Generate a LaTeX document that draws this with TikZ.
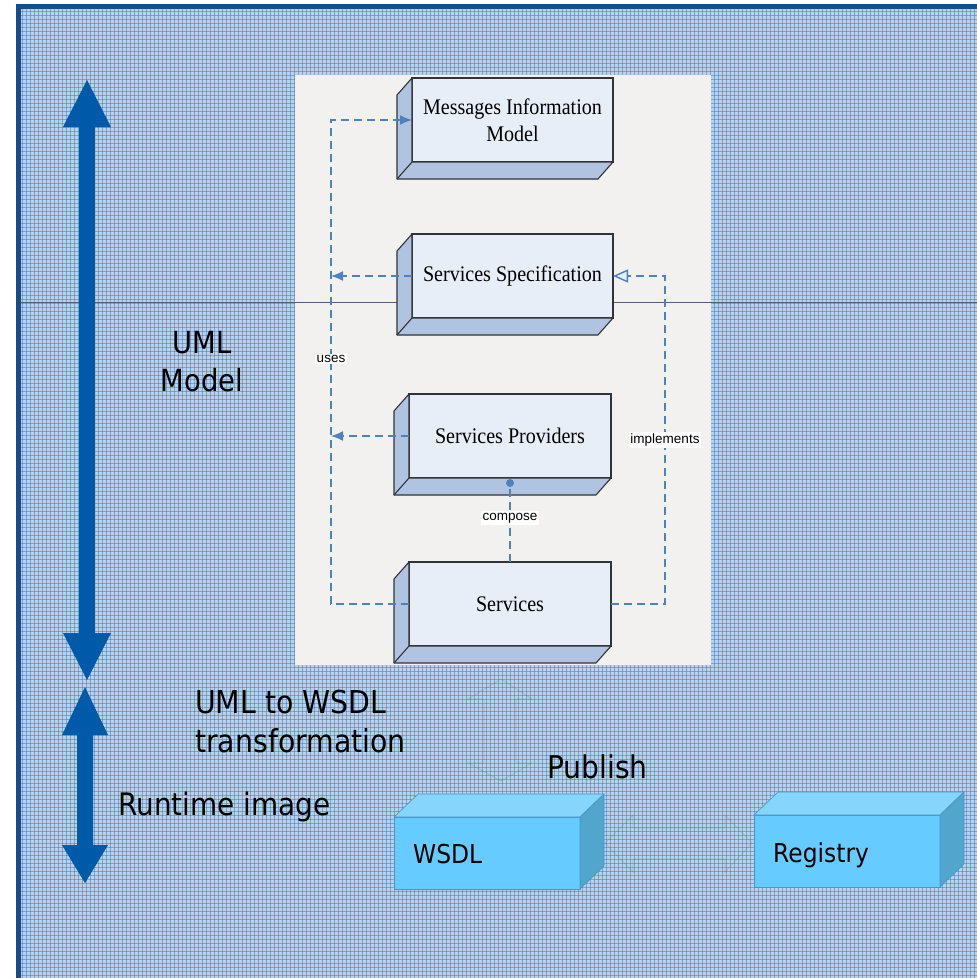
\documentclass[tikz,border=0pt]{standalone}
\usepackage{fontspec}
\setmainfont{Liberation Serif}
\newfontfamily\serifc[FakeStretch=0.9]{Liberation Serif}
\newfontfamily\tah[FakeStretch=0.9]{DejaVu Sans}
\newfontfamily\arialf{Liberation Sans}
\usetikzlibrary{arrows.meta,calc}
\definecolor{frameblue}{RGB}{22,76,136}
\definecolor{bigblue}{RGB}{0,90,170}
\definecolor{bgbase}{RGB}{186,209,235}
\definecolor{bgline}{RGB}{40,110,190}
\definecolor{panelgrey}{RGB}{242,241,239}
\definecolor{frontfill}{RGB}{232,238,248}
\definecolor{sidefill}{RGB}{176,196,226}
\definecolor{edgegrey}{RGB}{50,50,55}
\definecolor{depblue}{RGB}{79,129,189}
\definecolor{cyanfront}{RGB}{102,204,255}
\definecolor{cyantop}{RGB}{133,213,253}
\definecolor{cyanside}{RGB}{82,165,204}
\definecolor{cyanedge}{RGB}{70,150,200}
\definecolor{splitline}{RGB}{80,95,120}
\newcommand\umlsides[1]{%
  \filldraw[sidest] (#1.north west) -- ++(-15,17) -- ($(#1.south west)+(-15,17)$) -- ($(#1.south east)+(-15,17)$) -- (#1.south east) -- (#1.south west) -- cycle;
  \draw[sidest] (#1.south west) -- ++(-15,17);}
\newcommand\cyanfaces[1]{%
  \filldraw[cyantopst] (#1.north west) -- ++(24,-23) -- ($(#1.north east)+(24,-23)$) -- (#1.north east) -- cycle;
  \filldraw[cyansidest] (#1.north east) -- ++(24,-23) -- ($(#1.south east)+(24,-23)$) -- (#1.south east) -- cycle;}
\begin{document}
\begin{tikzpicture}[x=1pt,y=-1pt,
  front/.style={draw=edgegrey, fill=frontfill, line width=1.1pt, inner sep=0pt, outer sep=0pt,
    minimum width=201pt, minimum height=84pt, align=center, font=\serifc\fontsize{22.3}{27}\selectfont},
  sidest/.style={draw=edgegrey, fill=sidefill, line width=1.1pt, line join=round},
  cyanbox/.style={draw=cyanedge, fill=cyanfront, line width=0.6pt, inner sep=0pt, outer sep=0pt,
    minimum width=186pt, minimum height=72pt},
  cyantopst/.style={draw=cyanedge, fill=cyantop, line width=0.6pt},
  cyansidest/.style={draw=cyanedge, fill=cyanside, line width=0.6pt},
  dep/.style={draw=depblue, line width=1.4pt, dash pattern=on 8pt off 5pt},
  lbl/.style={fill=white, inner sep=1.5pt, font=\arialf\fontsize{13.5}{15}\selectfont},
  bigtxt/.style={inner sep=0pt, font=\tah\fontsize{31}{38}\selectfont},
  faint/.style={draw=gray, draw opacity=0.35, line width=0.7pt},
  bigarrow/.style={fill=bigblue}]
\useasboundingbox (0,0) rectangle (977,978);
\clip (0,0) rectangle (977,978);
\fill[white] (0,0) rectangle (977,978);
\fill[bgbase] (18.5,6.5) rectangle (990,990);
\foreach \i in {22,26,...,977} {\draw[bgline, line width=0.8pt, opacity=0.45] (\i,9) -- (\i,978);}
\foreach \j in {11,15,...,978} {\draw[bgline, line width=0.8pt, opacity=0.45] (21,\j) -- (977,\j);}
% grey panel
\fill[panelgrey] (295,75) rectangle (711,665);
% thin split line
\draw[splitline, line width=0.8pt] (21,302.5) -- (977,302.5);
% frame
\draw[frameblue, line width=5pt] (18.5,6.5) rectangle (995,995);
% big double arrows
\fill[bigarrow] (87,80) -- (111,127) -- (95,127) -- (95,633) -- (111,633) -- (87,680) -- (63,633) -- (79,633) -- (79,127) -- (63,127) -- cycle;
\fill[bigarrow] (85,687) -- (108,735) -- (93,735) -- (93,845) -- (108,845) -- (85,883) -- (62,845) -- (77,845) -- (77,735) -- (62,735) -- cycle;
% faint block arrows
\draw[faint] (501,679) -- (532,699) -- (516,699) -- (516,763) -- (532,763) -- (501,781) -- (468,763) -- (484,763) -- (484,699) -- (468,699) -- cycle;
\draw[faint] (605,843) -- (633,815) -- (633,828) -- (725,828) -- (725,815) -- (752,843) -- (725,872) -- (725,859) -- (633,859) -- (633,872) -- cycle;
% UML boxes
\node[front] (msg) at (512.5,120) {Messages Information\\Model};
\node[front] (spec) at (512.5,276) {Services Specification};
\node[front, minimum width=202pt] (prov) at (510,436) {Services Providers};
\node[front, minimum width=202pt] (svc) at (510,604) {Services};
\umlsides{msg}
\umlsides{spec}
\umlsides{prov}
\umlsides{svc}
% connectors
\coordinate (busX) at (331,0);
\coordinate (implX) at (665,0);
\coordinate (dot) at ([yshift=-5pt]prov.south);
\draw[dep,-{Latex[length=12pt,width=10pt]}] (svc.west) -- (svc.west -| busX) -- (msg.west -| busX) -- (msg.west);
\draw[dep,-{Latex[length=12pt,width=10pt]}] (spec.west) -- (spec.west -| busX);
\draw[dep,-{Latex[length=12pt,width=10pt]}] (prov.west) -- (prov.west -| busX);
\draw[dep,-{Triangle[open,length=15pt,width=13pt,fill=frontfill]}] (svc.east) -- (svc.east -| implX) -- (spec.east -| implX) -- (spec.east);
\draw[dep] (svc.north) -- (dot);
\fill[depblue] (dot) circle (4pt);
\node[lbl] (usesL) at (331,359) {uses};
\node[lbl] (implL) at (665,440) {implements};
\node[lbl] (compL) at (510,518) {compose};
% cyan boxes
\node[cyanbox] (wsdl) at (487,853) {};
\node[cyanbox] (reg) at (847,851) {};
\cyanfaces{wsdl}
\cyanfaces{reg}
\node[bigtxt, anchor=base west, font=\tah\fontsize{26}{30}\selectfont] (wsdlT) at (413,863) {WSDL};
\node[bigtxt, anchor=base west, font=\tah\fontsize{26}{30}\selectfont] (regT) at (773,862) {Registry};
% big texts
\node[bigtxt, anchor=base, font=\tah\fontsize{30.5}{38}\selectfont] (umlA) at (202,353) {UML};
\node[bigtxt, anchor=base, font=\tah\fontsize{30.5}{38}\selectfont] (umlB) at (202,391) {Model};
\node[bigtxt, anchor=base west, font=\tah\fontsize{31.5}{38}\selectfont] (transA) at (195,713) {UML to WSDL};
\node[bigtxt, anchor=base west, font=\tah\fontsize{31.5}{38}\selectfont] (transB) at (195,752) {transformation};
\node[bigtxt, anchor=base west, font=\tah\fontsize{31.3}{38}\selectfont] (pub) at (547,778) {Publish};
\node[bigtxt, anchor=base west, font=\tah\fontsize{31}{38}\selectfont] (rt) at (118,815) {Runtime image};
\end{tikzpicture}
\end{document}
